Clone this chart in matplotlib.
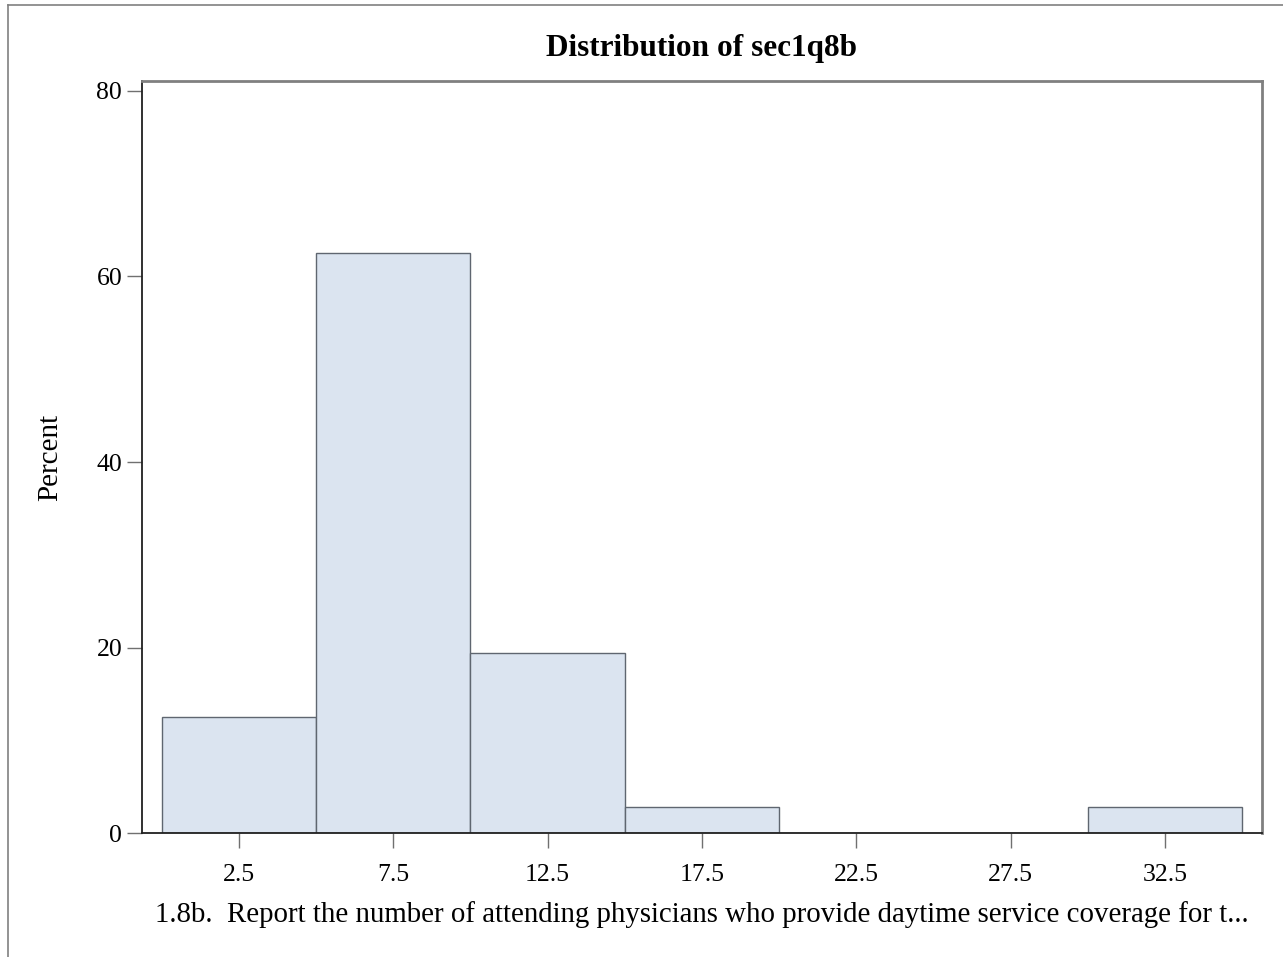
import numpy as np
import matplotlib.pyplot as plt
from matplotlib.lines import Line2D

# histogram of sec1q8b (percent per bin)
bin_mids = [2.5, 7.5, 12.5, 17.5, 22.5, 27.5, 32.5]
percent = [12.5, 62.5, 19.44, 2.78, 0.0, 0.0, 2.78]
bin_width = 5
yticks = [0, 20, 40, 60, 80]
xlabel = "1.8b.  Report the number of attending physicians who provide daytime service coverage for t..."

plt.rcParams['font.family'] = ['Liberation Serif', 'DejaVu Serif']

fig = plt.figure(figsize=(12.83, 9.57), dpi=100)
ax = fig.add_axes([0.1104, 0.1293, 0.8732, 0.7864])

ax.bar(bin_mids, percent, width=bin_width, color='#dbe4f0',
       edgecolor='#5f6670', linewidth=1.0, zorder=2)

ax.set_xlim(-0.65, 35.64)
ax.set_ylim(0, 81.1)
ax.set_xticks(bin_mids)
ax.set_xticklabels([str(v) for v in bin_mids])
ax.set_yticks(yticks)

ax.tick_params(axis='both', length=11, width=1.0, color='#707070',
               labelsize=18.5)
ax.tick_params(axis='x', pad=11)
ax.tick_params(axis='y', pad=3)

for side in ['left', 'bottom']:
    ax.spines[side].set_color('#202020')
    ax.spines[side].set_linewidth(1.3)
for side in ['top', 'right']:
    ax.spines[side].set_color('#808080')
    ax.spines[side].set_linewidth(2.0)

ax.set_title('Distribution of sec1q8b', fontsize=22.5, fontweight='bold', pad=18)
ax.set_ylabel('Percent', fontsize=21, labelpad=24)
ax.set_xlabel(xlabel, fontsize=20.8, labelpad=11)

# outer frame of the image: only left and top edges show
x0 = 8 / 1283
y0 = 1 - 5 / 957
fig.add_artist(Line2D([x0, x0], [0, y0], transform=fig.transFigure,
                      color='#808080', linewidth=1.2))
fig.add_artist(Line2D([x0, 1], [y0, y0], transform=fig.transFigure,
                      color='#808080', linewidth=1.2))

fig.savefig('out.png', dpi=100)
